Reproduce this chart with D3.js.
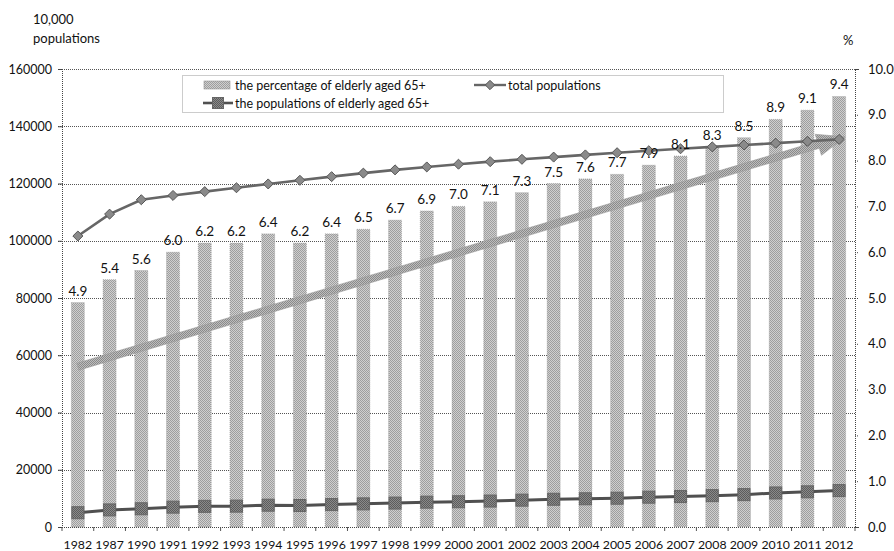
<!DOCTYPE html>
<html>
<head>
<meta charset="utf-8">
<script src="https://cdn.jsdelivr.net/npm/d3@7/dist/d3.min.js"></script>
<style>
  html, body { margin: 0; padding: 0; background: #fff; }
  svg { display: block; font-family: Lato, "Open Sans", sans-serif; }
</style>
</head>
<body>
<svg id="chart" width="894" height="551"></svg>
<script>
// Years on the category axis
const years = ["1982","1987","1990","1991","1992","1993","1994","1995","1996","1997","1998","1999",
  "2000","2001","2002","2003","2004","2005","2006","2007","2008","2009","2010","2011","2012"];
// Share of population aged 65+ (%), right axis
const elderlyPct = [4.9,5.4,5.6,6.0,6.2,6.2,6.4,6.2,6.4,6.5,6.7,6.9,7.0,7.1,7.3,7.5,7.6,7.7,7.9,8.1,8.3,8.5,8.9,9.1,9.4];
// Total population (10,000 persons), left axis
const totalPop = [101654,109300,114333,115823,117171,118517,119850,121121,122389,123626,124761,125786,
  126743,127627,128453,129227,129988,130756,131448,132129,132802,133450,134091,134735,135404];
// Population aged 65+ (10,000 persons), left axis
const elderlyPop = [4991,5968,6368,6938,7218,7289,7622,7510,7833,8085,8359,8679,
  8821,9062,9377,9692,9857,10055,10419,10636,10956,11307,11894,12288,12714];
// Rising-trend arrow, start and end in % (right axis)
const trendFrom = { year: "1982", pct: 3.5 };
const trendTo   = { year: "2012", pct: 8.52 };
// Axis ticks
const leftTicks  = [0,20000,40000,60000,80000,100000,120000,140000,160000];
const rightTicks = [0,1,2,3,4,5,6,7,8,9,10];

const svg = d3.select("#chart");
const plot = { left: 62, right: 855, top: 69, bottom: 527 };

const x = d3.scaleBand().domain(years).range([plot.left, plot.right]).paddingInner(0.59).paddingOuter(0.295);
const cx = d => x(d) + x.bandwidth() / 2;
const yL = d3.scaleLinear().domain([0, 160000]).range([plot.bottom, plot.top]);
const yR = d3.scaleLinear().domain([0, 10]).range([plot.bottom, plot.top]);

// dithered grey fills
const defs = svg.append("defs");
function dither(id, light, dark) {
  const p = defs.append("pattern").attr("id", id).attr("patternUnits", "userSpaceOnUse")
    .attr("width", 2).attr("height", 2);
  p.append("rect").attr("width", 2).attr("height", 2).attr("fill", light);
  p.append("rect").attr("width", 1).attr("height", 1).attr("fill", dark);
  p.append("rect").attr("x", 1).attr("y", 1).attr("width", 1).attr("height", 1).attr("fill", dark);
}
dither("barFill", "#cfcfcf", "#9e9e9e");
dither("trendFill", "#bdbdbd", "#8a8a8a");
dither("sqFill", "#8a8a8a", "#5c5c5c");

// horizontal grid lines
svg.append("g").selectAll("line").data(leftTicks.slice(1)).join("line")
  .attr("x1", plot.left - 4).attr("x2", plot.right)
  .attr("y1", d => Math.round(yL(d)) + 0.5).attr("y2", d => Math.round(yL(d)) + 0.5)
  .attr("stroke", "#555").attr("stroke-width", 1).attr("stroke-dasharray", "1,1");

// left axis
const axL = svg.append("g").attr("transform", `translate(${plot.left},0)`)
  .call(d3.axisLeft(yL).tickValues(leftTicks).tickFormat(d3.format("d")).tickSize(4).tickPadding(6));
axL.select(".domain").attr("stroke", "#444").attr("stroke-dasharray", "1,1");
axL.selectAll(".tick line").attr("stroke", "#444");
axL.selectAll("text").attr("font-size", 12.5).attr("fill", "#111").attr("font-family", "Lato");

// right axis
const axR = svg.append("g").attr("transform", `translate(${plot.right},0)`)
  .call(d3.axisRight(yR).tickValues(rightTicks).tickFormat(d3.format(".1f")).tickSize(4).tickPadding(9));
axR.select(".domain").attr("stroke", "#444").attr("stroke-dasharray", "1,1");
axR.selectAll(".tick line").attr("stroke", "#444").attr("stroke-dasharray", "1,1");
axR.selectAll("text").attr("font-size", 13).attr("fill", "#111").attr("font-family", "Lato");

// bottom axis: baseline, boundary ticks and year labels
svg.append("line").attr("x1", plot.left).attr("x2", plot.right)
  .attr("y1", plot.bottom + 0.5).attr("y2", plot.bottom + 0.5)
  .attr("stroke", "#444").attr("stroke-dasharray", "1,1");
svg.append("g").selectAll("line").data(years.concat(["end"])).join("line")
  .attr("x1", (d, i) => plot.left + i * x.step()).attr("x2", (d, i) => plot.left + i * x.step())
  .attr("y1", plot.bottom).attr("y2", plot.bottom + 4)
  .attr("stroke", "#555");
svg.append("g").selectAll("text").data(years).join("text")
  .attr("x", d => cx(d)).attr("y", 548.5)
  .attr("text-anchor", "middle").attr("font-size", 12.3).attr("fill", "#111")
  .text(d => d);

// bars: share of elderly (%)
svg.append("g").selectAll("rect").data(years).join("rect")
  .attr("x", d => x(d)).attr("width", x.bandwidth())
  .attr("y", (d, i) => yR(elderlyPct[i])).attr("height", (d, i) => plot.bottom - yR(elderlyPct[i]))
  .attr("fill", "url(#barFill)").attr("stroke", "#959595").attr("stroke-width", 0.6)
  .attr("stroke-dasharray", "1,1");

// trend arrow
const tx1 = cx(trendFrom.year), ty1 = yR(trendFrom.pct);
const tx2 = cx(trendTo.year) + 6, ty2 = yR(trendTo.pct);
const ang = Math.atan2(ty2 - ty1, tx2 - tx1);
const headLen = 28, headHalf = 11, shaft = 3.6;
const ux = Math.cos(ang), uy = Math.sin(ang), nx = -uy, ny = ux;
const bx = tx2 - ux * headLen, by = ty2 - uy * headLen;
const arrowPts = [
  [tx1 + nx * shaft, ty1 + ny * shaft],
  [bx + nx * shaft, by + ny * shaft],
  [bx + nx * headHalf, by + ny * headHalf],
  [tx2, ty2],
  [bx - nx * headHalf, by - ny * headHalf],
  [bx - nx * shaft, by - ny * shaft],
  [tx1 - nx * shaft, ty1 - ny * shaft]
];
svg.append("path").attr("d", d3.line()(arrowPts) + "Z")
  .attr("fill", "url(#trendFill)").attr("stroke", "#9c9c9c").attr("stroke-width", 0.6);

// total population line with diamonds
const lineGen = vals => d3.line().x((d, i) => cx(years[i])).y(d => yL(d))(vals);
svg.append("path").attr("d", lineGen(totalPop))
  .attr("fill", "none").attr("stroke", "#666").attr("stroke-width", 2.6);
svg.append("g").selectAll("path").data(totalPop).join("path")
  .attr("transform", (d, i) => `translate(${cx(years[i])},${yL(d)})`)
  .attr("d", d3.symbol(d3.symbolDiamond2, 64)())
  .attr("fill", "#8a8a8a").attr("stroke", "#555").attr("stroke-width", 1);

// elderly population line with squares
svg.append("path").attr("d", lineGen(elderlyPop))
  .attr("fill", "none").attr("stroke", "#505050").attr("stroke-width", 3);
svg.append("g").selectAll("rect").data(elderlyPop).join("rect")
  .attr("x", (d, i) => cx(years[i]) - 6).attr("y", d => yL(d) - 6)
  .attr("width", 12).attr("height", 12)
  .attr("fill", "url(#sqFill)").attr("stroke", "#666").attr("stroke-width", 1);

// value labels above bars
svg.append("g").selectAll("text").data(years).join("text")
  .attr("x", d => cx(d)).attr("y", (d, i) => yR(elderlyPct[i]) - 7)
  .attr("text-anchor", "middle").attr("font-size", 13.5).attr("fill", "#111")
  .text((d, i) => elderlyPct[i].toFixed(1));

// axis unit titles
svg.append("text").attr("x", 33).attr("y", 24).attr("font-size", 13).attr("fill", "#111").text("10,000");
svg.append("text").attr("x", 33).attr("y", 43).attr("font-size", 13).attr("fill", "#111").text("populations");
svg.append("text").attr("x", 843).attr("y", 45).attr("font-size", 13).attr("fill", "#111").text("%");

// legend
const lg = svg.append("g");
lg.append("rect").attr("x", 182.5).attr("y", 75.5).attr("width", 541).attr("height", 37)
  .attr("fill", "#fff").attr("stroke", "#999").attr("stroke-dasharray", "1,1");
lg.append("rect").attr("x", 204).attr("y", 81).attr("width", 26).attr("height", 8)
  .attr("fill", "url(#barFill)").attr("stroke", "#959595").attr("stroke-width", 0.6);
lg.append("text").attr("x", 235).attr("y", 90).attr("font-size", 12.5).attr("fill", "#111")
  .text("the percentage of elderly aged 65+");
lg.append("line").attr("x1", 474).attr("x2", 506).attr("y1", 85).attr("y2", 85)
  .attr("stroke", "#666").attr("stroke-width", 2.4);
lg.append("path").attr("transform", "translate(490,85)").attr("d", d3.symbol(d3.symbolDiamond2, 56)())
  .attr("fill", "#8a8a8a").attr("stroke", "#555");
lg.append("text").attr("x", 508).attr("y", 90).attr("font-size", 12.5).attr("fill", "#111")
  .text("total populations");
lg.append("line").attr("x1", 203).attr("x2", 233).attr("y1", 103).attr("y2", 103)
  .attr("stroke", "#505050").attr("stroke-width", 2.6);
lg.append("rect").attr("x", 212.5).attr("y", 97.5).attr("width", 11).attr("height", 11)
  .attr("fill", "url(#sqFill)").attr("stroke", "#666");
lg.append("text").attr("x", 235).attr("y", 108).attr("font-size", 12.5).attr("fill", "#111")
  .text("the populations of elderly aged 65+");
</script>
</body>
</html>
